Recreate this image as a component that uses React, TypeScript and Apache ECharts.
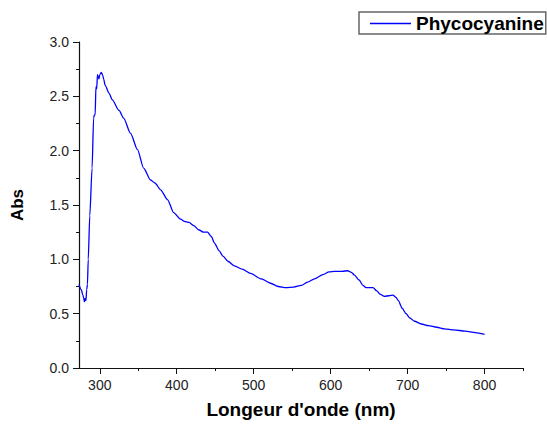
import React, { useEffect, useRef } from "react";
import * as echarts from "echarts";

// Absorption spectrum of phycocyanin: wavelength (nm) and absorbance
const wavelengths = [
  273, 276, 278, 279, 280, 281, 282, 283, 284, 285, 287, 290, 292, 293, 294,
  295, 296, 297, 298, 299, 300, 302, 304, 305, 307, 312, 316, 325, 331, 340,
  349, 357, 366, 372, 379, 388, 396, 405, 410, 416, 422, 429, 435, 440, 445,
  449, 455, 460, 467, 475, 485, 496, 510, 522, 532, 542, 552, 562, 570, 579,
  590, 598, 605, 615, 622, 627, 631, 637, 642, 646, 650, 655, 660, 664, 670,
  676, 681, 685, 688, 693, 698, 703, 709, 718, 727, 738, 748, 760, 775, 788,
  800,
];
const absorbance = [
  0.77, 0.72, 0.67, 0.65, 0.61, 0.64, 0.62, 0.72, 0.77, 1.0, 1.4, 1.84, 2.3,
  2.33, 2.33, 2.59, 2.57, 2.7, 2.68, 2.66, 2.7, 2.72, 2.69, 2.66, 2.6, 2.53,
  2.47, 2.37, 2.3, 2.16, 2.01, 1.84, 1.73, 1.7, 1.64, 1.55, 1.43, 1.37, 1.35,
  1.34, 1.31, 1.27, 1.25, 1.25, 1.21, 1.15, 1.08, 1.03, 0.98, 0.94, 0.91, 0.87,
  0.82, 0.78, 0.75, 0.74, 0.745, 0.76, 0.79, 0.82, 0.86, 0.885, 0.89, 0.89,
  0.895, 0.88, 0.855, 0.81, 0.76, 0.74, 0.74, 0.74, 0.71, 0.68, 0.66, 0.665,
  0.67, 0.65, 0.62, 0.55, 0.5, 0.46, 0.43, 0.405, 0.39, 0.375, 0.36, 0.35,
  0.34, 0.325, 0.31,
];

const xMajorTicks = [300, 400, 500, 600, 700, 800];
const xMinorTicks = [350, 450, 550, 650, 750, 850];
const seriesName = "Phycocyanine";
const xTitle = "Longeur d'onde (nm)";
const yTitle = "Abs";

const FONT = "'Liberation Sans', Arial, sans-serif";

export default function App() {
  const ref = useRef<HTMLDivElement>(null);

  useEffect(() => {
    document.body.style.margin = "0";
    const chart = echarts.init(ref.current!, null, { renderer: "svg" });
    const points = wavelengths.map((w, i) => [w, absorbance[i]]);
    const axisLine = { show: true, lineStyle: { color: "#111", width: 1.2 } };

    chart.setOption({
      animation: false,
      backgroundColor: "#ffffff",
      textStyle: { fontFamily: FONT },
      grid: { left: 79, right: 24, top: 42, bottom: 55, containLabel: false },
      legend: {
        left: 359,
        top: 12,
        padding: [2, 2, 1, 11],
        itemWidth: 41,
        itemHeight: 1.4,
        itemGap: 5,
        icon: "rect",
        borderColor: "#666",
        borderWidth: 1.5,
        textStyle: { fontSize: 19, fontWeight: "bold", color: "#000", fontFamily: FONT },
        data: [seriesName],
      },
      xAxis: [
        {
          type: "value",
          min: 273,
          max: 850,
          axisLine,
          splitLine: { show: false },
          axisTick: { show: true, length: 6, customValues: xMajorTicks, lineStyle: { color: "#111" } },
          axisLabel: { customValues: xMajorTicks, fontSize: 14, color: "#222", margin: 10, fontFamily: FONT },
          name: xTitle,
          nameLocation: "middle",
          nameGap: 32,
          nameTextStyle: { fontSize: 19, fontWeight: "bold", color: "#000", fontFamily: FONT },
        },
        {
          type: "value",
          min: 273,
          max: 850,
          position: "bottom",
          axisLine: { show: false },
          splitLine: { show: false },
          axisTick: { show: true, length: 3, customValues: xMinorTicks, lineStyle: { color: "#111" } },
          axisLabel: { show: false },
        },
      ],
      yAxis: {
        type: "value",
        min: 0,
        max: 3,
        interval: 0.5,
        axisLine,
        splitLine: { show: false },
        axisTick: { show: true, length: 6, lineStyle: { color: "#111" } },
        minorTick: { show: true, splitNumber: 2, length: 3, lineStyle: { color: "#111" } },
        axisLabel: {
          fontSize: 14,
          color: "#222",
          margin: 10,
          fontFamily: FONT,
          formatter: (v: number) => v.toFixed(1),
        },
        name: yTitle,
        nameLocation: "middle",
        nameGap: 53,
        nameTextStyle: { fontSize: 17, fontWeight: "bold", color: "#000", fontFamily: FONT },
      },
      series: [
        {
          name: seriesName,
          type: "line",
          xAxisIndex: 0,
          data: points,
          symbol: "none",
          smooth: 0.25,
          smoothMonotone: "x",
          lineStyle: { color: "#0000ff", width: 1.3 },
          itemStyle: { color: "#0000ff" },
        },
      ],
    });
    return () => chart.dispose();
  }, []);

  return <div ref={ref} style={{ width: 547, height: 424 }} />;
}
